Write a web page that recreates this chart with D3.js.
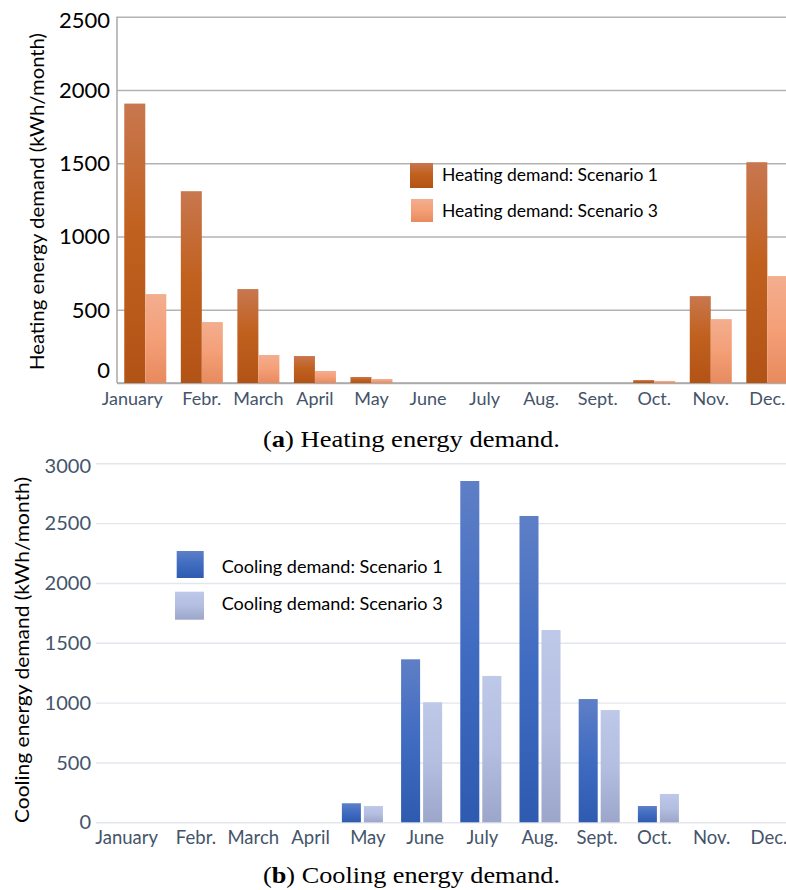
<!DOCTYPE html>
<html><head><meta charset="utf-8">
<script src="https://cdn.jsdelivr.net/npm/d3@7"></script>
<style>body{margin:0;background:#fff}svg{display:block}</style>
</head><body>
<svg id="c" width="786" height="890"></svg>
<script>
const months = ["January","Febr.","March","April","May","June","July","Aug.","Sept.","Oct.","Nov.","Dec."];
const heatingS1 = [1907,1309,641,184,41,0,0,0,0,20,593,1507];
const heatingS3 = [607,416,191,82,27,0,0,0,0,14,436,730];
const coolingS1 = [0,0,0,0,159,1362,2852,2560,1030,136,0,0];
const coolingS3 = [0,0,0,0,136,1003,1223,1607,938,237,0,0];
const heatingTicks = [0,500,1000,1500,2000,2500];
const coolingTicks = [0,500,1000,1500,2000,2500,3000];
const heatingSeries = ["Heating demand: Scenario 1","Heating demand: Scenario 3"];
const coolingSeries = ["Cooling demand: Scenario 1","Cooling demand: Scenario 3"];
const captionA = ["(", "a", ") Heating energy demand."];
const captionB = ["(", "b", ") Cooling energy demand."];

const SANS = "Lato, 'Open Sans', sans-serif";
const svg = d3.select("#c");
const defs = svg.append("defs");
function grad(id, stops){
  const g = defs.append("linearGradient").attr("id",id).attr("x1",0).attr("y1",0).attr("x2",0).attr("y2",1);
  stops.forEach(([o,c])=>g.append("stop").attr("offset",o).attr("stop-color",c));
}
grad("h1",[[0,"#C8774F"],[0.45,"#C1611F"],[1,"#B25316"]]);
grad("h3",[[0,"#F3AE8F"],[0.5,"#F49F77"],[1,"#E88A5E"]]);
grad("c1",[[0,"#5E7FC6"],[0.5,"#3F6BC1"],[1,"#2E5AB0"]]);
grad("c3",[[0,"#BEC8E8"],[0.5,"#B3BEE1"],[1,"#9CA6CA"]]);

function panel(cfg){
  const g = svg.append("g");
  const x0 = d3.scaleBand().domain(months).range(cfg.xRange)
    .paddingInner(cfg.padIn).paddingOuter(cfg.padIn/2);
  const x1 = d3.scaleBand().domain([0,1]).range([0,x0.bandwidth()]).paddingInner(cfg.subPad);
  const y = d3.scaleLinear().domain([0,cfg.ticks[cfg.ticks.length-1]]).range(cfg.yRange);
  const left = cfg.xRange[0];

  const ya = g.append("g").attr("transform",`translate(${left},0)`)
    .call(d3.axisLeft(y).tickValues(cfg.ticks).tickFormat(d3.format("d"))
      .tickSize(-(786-left)).tickPadding(cfg.tickPad));
  ya.select(".domain").remove();
  ya.selectAll(".tick line").attr("stroke",cfg.gridColor).attr("stroke-width",cfg.gridWidth);
  ya.selectAll(".tick text").attr("fill",cfg.yTickColor).style("font-family",SANS)
    .style("font-size",cfg.yTickSize+"px")
    .attr("dy", d => (cfg.yTickDy[d]||0) + 0.33 + "em");

  if (cfg.axisLine){
    g.append("line").attr("x1",left).attr("x2",left).attr("y1",cfg.yRange[1]).attr("y2",cfg.yRange[0])
      .attr("stroke",cfg.axisLine).attr("stroke-width",1.5);
    g.append("line").attr("x1",left).attr("x2",786).attr("y1",cfg.yRange[0]).attr("y2",cfg.yRange[0])
      .attr("stroke",cfg.axisLine).attr("stroke-width",1.5);
  }

  const groups = g.append("g").selectAll("g").data(months).join("g")
    .attr("transform", d=>`translate(${x0(d)},0)`);
  groups.selectAll("rect").data((d,i)=>[cfg.s1[i],cfg.s3[i]].map((v,k)=>({k,v})))
    .join("rect")
    .attr("x", d=>x1(d.k)).attr("width", x1.bandwidth())
    .attr("y", d=>y(d.v)).attr("height", d=>y(0)-y(d.v))
    .attr("fill", d=>`url(#${cfg.fills[d.k]})`);

  const lx = d3.scaleBand().domain(months).range(cfg.labelRange);
  const xa = g.append("g").attr("transform",`translate(0,${cfg.yRange[0]})`)
    .call(d3.axisBottom(lx).tickSize(0).tickPadding(cfg.xLabPad));
  xa.select(".domain").remove();
  xa.selectAll(".tick text").attr("fill","#44546A").style("font-family",SANS)
    .style("font-size",cfg.xLabSize+"px")
    .attr("dx", d => d==="January" ? cfg.janShift : 0);

  g.append("text").attr("transform",`translate(${cfg.titleX},${cfg.titleY}) rotate(-90)`)
    .attr("text-anchor","middle").attr("dy","0.35em")
    .style("font-family",SANS).style("font-size",cfg.titleSize+"px").attr("fill","#000")
    .attr("textLength",cfg.titleLen).attr("lengthAdjust","spacingAndGlyphs")
    .text(cfg.title);

  const lg = g.append("g");
  cfg.series.forEach((s,k)=>{
    const sq = cfg.legSq[k];
    lg.append("rect").attr("x",sq[0]).attr("y",sq[1]).attr("width",sq[2]).attr("height",sq[3])
      .attr("fill",`url(#${cfg.fills[k]})`);
    lg.append("text").attr("x",cfg.legTextX).attr("y",cfg.legTextY[k]).attr("dy","0.35em")
      .style("font-family",SANS).style("font-size",cfg.legSize+"px").attr("fill","#000")
      .attr("textLength",cfg.legLen).attr("lengthAdjust","spacingAndGlyphs")
      .text(s);
  });

  const cap = svg.append("text").attr("x",263).attr("y",cfg.capY)
    .style("font-family","'Liberation Serif',serif").style("font-size","23px").attr("fill","#000")
    .attr("textLength",297).attr("lengthAdjust","spacingAndGlyphs");
  cfg.caption.forEach((t,i)=>cap.append("tspan").style("font-weight", i===1?"bold":"normal").text(t));
}

panel({
  s1: heatingS1, s3: heatingS3, ticks: heatingTicks, series: heatingSeries,
  fills: ["h1","h3"], xRange: [117,795.6], yRange: [383,16.7], padIn: 0.257, subPad: 0,
  gridColor:"#B3B3B3", gridWidth:1.4, axisLine:"#A8A8A8", tickPad:7,
  yTickColor:"#000", yTickSize:22, yTickDy:{0:-0.6, 2500:0.18},
  labelRange:[117,795.6], xLabPad:9, xLabSize:18, janShift:-13,
  title:"Heating energy demand (kWh/month)", titleX:37, titleY:201.5, titleSize:19, titleLen:337,
  legSq:[[410,163,23,25],[411,199,22,23]], legTextX:442, legTextY:[175,210.5], legSize:17.5, legLen:216,
  caption: captionA, capY:447
});
panel({
  s1: coolingS1, s3: coolingS3, ticks: coolingTicks, series: coolingSeries,
  fills: ["c1","c3"], xRange: [96,806.4], yRange: [822.3,463.3], padIn: 0.307, subPad: 0.136,
  gridColor:"#E3E6ED", gridWidth:1.4, axisLine:null, tickPad:5,
  yTickColor:"#44546A", yTickSize:20, yTickDy:{3000:0.12},
  labelRange:[110,797.6], xLabPad:9, xLabSize:18.5, janShift:-12,
  title:"Cooling energy demand (kWh/month)", titleX:22, titleY:650, titleSize:19.5, titleLen:346,
  legSq:[[176.7,551,27,27],[175,591.7,29,28]], legTextX:221.7, legTextY:[566.7,603.3], legSize:18, legLen:221,
  caption: captionB, capY:883
});
</script>
</body></html>
